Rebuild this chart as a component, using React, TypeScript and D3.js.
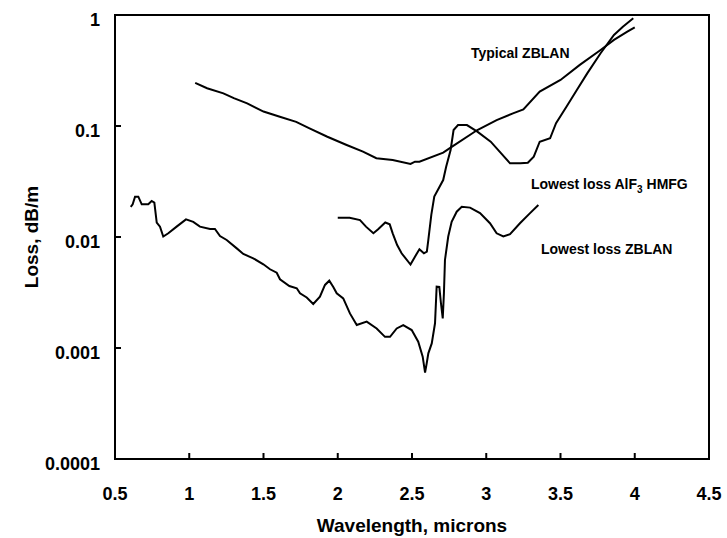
import React from "react";
import * as d3 from "d3";

const xTicks = [0.5, 1, 1.5, 2, 2.5, 3, 3.5, 4, 4.5];
const yTicks = [1, 0.1, 0.01, 0.001, 0.0001];
const yTickLabels = ["1", "0.1", "0.01", "0.001", "0.0001"];

// Typical ZBLAN
const typicalX = [1.04, 1.12, 1.23, 1.3, 1.39, 1.5, 1.61, 1.72, 1.81, 1.93, 2.06, 2.17, 2.26, 2.37, 2.49, 2.52, 2.55, 2.71, 2.77, 2.94, 3.07, 3.18, 3.25, 3.36, 3.5, 3.63, 3.77, 3.86, 3.95, 4.0];
const typicalY = [0.245, 0.219, 0.197, 0.178, 0.16, 0.135, 0.121, 0.109, 0.0953, 0.08, 0.0674, 0.0587, 0.0512, 0.0494, 0.0455, 0.0477, 0.0477, 0.0575, 0.0651, 0.092, 0.113, 0.13, 0.141, 0.204, 0.26, 0.355, 0.484, 0.596, 0.708, 0.775];

// Lowest loss AlF3 HMFG
const hmfgX = [2.0, 2.08, 2.15, 2.19, 2.24, 2.27, 2.32, 2.35, 2.37, 2.4, 2.43, 2.49, 2.52, 2.55, 2.58, 2.6, 2.61, 2.63, 2.65, 2.71, 2.73, 2.76, 2.78, 2.81, 2.87, 2.94, 3.03, 3.09, 3.16, 3.23, 3.28, 3.32, 3.36, 3.43, 3.47, 3.54, 3.61, 3.68, 3.77, 3.86, 3.92, 3.99];
const hmfgY = [0.0149, 0.0149, 0.0142, 0.0124, 0.0108, 0.0117, 0.0135, 0.013, 0.0108, 0.00847, 0.00713, 0.00565, 0.00665, 0.00774, 0.00713, 0.00738, 0.0094, 0.0158, 0.0231, 0.0326, 0.043, 0.0608, 0.092, 0.102, 0.102, 0.0889, 0.0722, 0.0587, 0.0461, 0.0461, 0.0467, 0.0529, 0.0722, 0.0775, 0.106, 0.149, 0.211, 0.298, 0.452, 0.661, 0.785, 0.934];

// Lowest loss ZBLAN
const zblanX = [0.606, 0.619, 0.635, 0.657, 0.68, 0.724, 0.747, 0.765, 0.781, 0.803, 0.825, 0.859, 0.915, 0.978, 1.027, 1.072, 1.14, 1.173, 1.207, 1.252, 1.32, 1.364, 1.431, 1.499, 1.544, 1.589, 1.611, 1.674, 1.724, 1.746, 1.791, 1.835, 1.88, 1.914, 1.943, 1.97, 1.993, 2.037, 2.082, 2.128, 2.195, 2.262, 2.318, 2.352, 2.397, 2.441, 2.498, 2.542, 2.572, 2.588, 2.599, 2.61, 2.633, 2.655, 2.666, 2.684, 2.695, 2.707, 2.715, 2.722, 2.744, 2.767, 2.801, 2.835, 2.891, 2.958, 3.025, 3.07, 3.115, 3.16, 3.227, 3.295, 3.351];
const zblanY = [0.0187, 0.0197, 0.0231, 0.0231, 0.0197, 0.0197, 0.0211, 0.0204, 0.0135, 0.0124, 0.0101, 0.0108, 0.0124, 0.0144, 0.0137, 0.0124, 0.0118, 0.0118, 0.0102, 0.0094, 0.0079, 0.00703, 0.00643, 0.00568, 0.00512, 0.00477, 0.00416, 0.00362, 0.00345, 0.00311, 0.00285, 0.00249, 0.0029, 0.0037, 0.00404, 0.00355, 0.00311, 0.0028, 0.00205, 0.00161, 0.00173, 0.0015, 0.00126, 0.00126, 0.0015, 0.00161, 0.00145, 0.00114, 0.000835, 0.000601, 0.000728, 0.000895, 0.0011, 0.00167, 0.00357, 0.00355, 0.00253, 0.00185, 0.00311, 0.00621, 0.0101, 0.0137, 0.0169, 0.0187, 0.0184, 0.0164, 0.0133, 0.0108, 0.0101, 0.0106, 0.0133, 0.0164, 0.0194];

const series = [
  { name: "Typical ZBLAN", xs: typicalX, ys: typicalY },
  { name: "Lowest loss AlF3 HMFG", xs: hmfgX, ys: hmfgY },
  { name: "Lowest loss ZBLAN", xs: zblanX, ys: zblanY },
];

const W = 727;
const H = 538;
const left = 115;
const right = 709;
const top = 15;
const bottom = 459;
const font = "'Liberation Sans', Arial, sans-serif";

export default function App() {
  const x = d3.scaleLinear().domain([0.5, 4.5]).range([left, right]);
  const y = d3.scaleLog().domain([0.0001, 1]).range([bottom, top]);
  const line = d3
    .line<[number, number]>()
    .x((d) => x(d[0]))
    .y((d) => y(d[1]));

  return (
    <svg
      width={W}
      height={H}
      style={{ position: "absolute", left: 0, top: 0, background: "#fff" }}
      fontFamily={font}
      fontWeight="bold"
    >
      <rect x={0} y={0} width={W} height={H} fill="#fff" />
      {series.map((s) => (
        <path
          key={s.name}
          d={line(s.xs.map((v, i) => [v, s.ys[i]] as [number, number])) || ""}
          fill="none"
          stroke="#000"
          strokeWidth={2}
          strokeLinejoin="miter"
        />
      ))}
      <rect x={left} y={top} width={right - left} height={bottom - top} fill="none" stroke="#000" strokeWidth={2} />
      {xTicks.map((t) => (
        <g key={"x" + t}>
          <line x1={x(t)} x2={x(t)} y1={bottom} y2={bottom - 6} stroke="#000" strokeWidth={2} />
          <text x={x(t)} y={500} textAnchor="middle" fontSize={18}>
            {String(t)}
          </text>
        </g>
      ))}
      {yTicks.map((t, i) => (
        <g key={"y" + t}>
          <line x1={left} x2={left + 6} y1={y(t)} y2={y(t)} stroke="#000" strokeWidth={2} />
          <text x={100} y={y(t) + 11} textAnchor="end" fontSize={18}>
            {yTickLabels[i]}
          </text>
        </g>
      ))}
      <text x={(left + right) / 2} y={532} textAnchor="middle" fontSize={19}>
        Wavelength, microns
      </text>
      <text transform={`translate(38,${(top + bottom) / 2}) rotate(-90)`} textAnchor="middle" fontSize={19}>
        Loss, dB/m
      </text>
      <text x={471} y={58} fontSize={14}>
        Typical ZBLAN
      </text>
      <text x={531} y={189} fontSize={14}>
        Lowest loss AlF
        <tspan fontSize={10} dy={4}>3</tspan>
        <tspan dy={-4}> HMFG</tspan>
      </text>
      <text x={541} y={254} fontSize={14}>
        Lowest loss ZBLAN
      </text>
    </svg>
  );
}
